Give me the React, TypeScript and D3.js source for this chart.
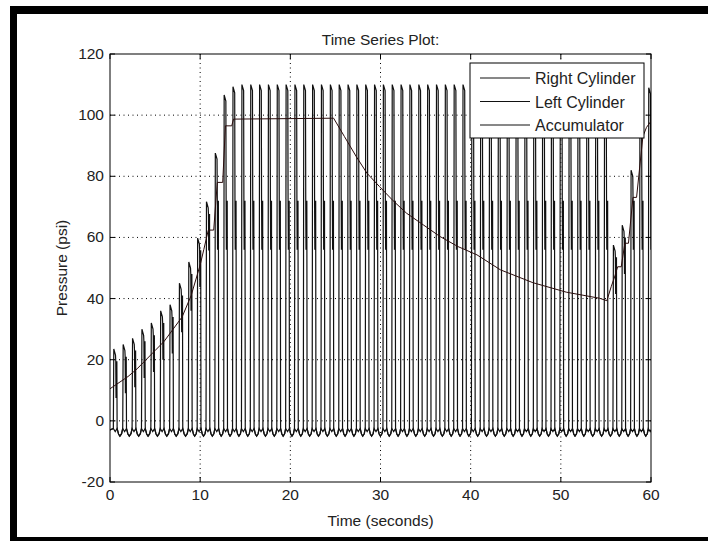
import React from 'react';
import * as d3 from 'd3';

// onset of every pump stroke (seconds), strokes alternate right / left cylinder
const strokeTimes = [
  0.37, 1.41, 2.45, 3.49, 4.53, 5.57, 6.61, 7.65, 8.69, 9.67,
  10.65, 11.63, 12.61, 13.59, 14.58, 15.56, 16.54, 17.52, 18.5, 19.48,
  20.46, 21.44, 22.42, 23.4, 24.39, 25.37, 26.35, 27.33, 28.31, 29.29,
  30.27, 31.25, 32.23, 33.21, 34.2, 35.18, 36.16, 37.14, 38.12, 39.1,
  40.08, 41.06, 42.04, 43.02, 44.01, 44.99, 45.97, 46.95, 47.93, 48.91,
  49.89, 50.87, 51.85, 52.83, 53.82, 54.8, 55.78, 56.76, 57.74, 58.72,
  59.7,
];

// peak pressure (psi) reached by each stroke
const strokePeaks = [
  23.5, 25, 27, 30, 32, 36, 38, 45, 52, 59.8,
  71.7, 87.6, 106.6, 109.3, 110, 110, 110, 110, 110, 110,
  110, 110, 110, 110, 110, 110, 110, 110, 110, 110,
  110, 110, 110, 110, 110, 110, 110, 110, 110, 110,
  110, 110, 110, 110, 110, 110, 110, 110, 110, 110,
  110, 110, 110, 110, 110, 110, 57.5, 64, 82, 97,
  109,
];

const strokeDt = [0, 0.05, 0.24, 0.27, 0.3, 0.33, 0.36, 0.39, 0.42];
const suctionLevel = -2.5;
// valve chatter band on the falling edge
const chatterTop = 72;
const chatterLow = 56;

// suction trough between strokes: fraction of the gap / pressure
const troughAt = [0.25, 0.5, 0.8];
const troughPsi = [-4.3, -5, -4.2];

const accTime = [
  0, 1, 2, 3, 4, 5, 6, 7, 8, 9, 10, 10.4, 10.9, 11.5, 11.9, 12.5, 12.8, 13.5,
  13.7, 24.8, 26, 27.3, 28.5, 29.9, 31.4, 32.9, 34.8, 36.6, 38.6, 40.7, 43.3,
  46.9, 50.6, 54.3, 55.1, 55.6, 56, 56.3, 56.7, 57.1, 57.5, 58, 58.4, 59.1,
  59.5, 60,
];
const accPsi = [
  10.5, 12.5, 14.5, 17, 20, 23, 26, 30, 34, 41, 51, 56, 62.4, 62.4, 78, 78, 96.5, 96.5,
  98.7, 99, 93, 86.5, 81, 76.6, 72, 67.9, 64, 60.3, 57, 54.3, 49.4,
  45.2, 42.1, 40.1, 39.3, 44, 47.4, 50.4, 50.4, 58.1, 58.1, 73.1, 73.1, 93,
  96, 98,
];

const xTicks = [0, 10, 20, 30, 40, 50, 60];
const yTicks = [-20, 0, 20, 40, 60, 80, 100, 120];
const seriesNames = ['Right Cylinder', 'Left Cylinder', 'Accumulator'];

type Pt = [number, number];

function cylinderTrace(side: number): Pt[] {
  const pts: Pt[] = [[0, -3]];
  const last = strokeDt[strokeDt.length - 1];
  strokeTimes.forEach((t0, k) => {
    const p = strokePeaks[k];
    if (k % 2 === side) {
      const top = p >= 75 ? chatterTop : p - 4;
      const low = p >= 75 ? chatterLow : Math.max(p - 16, 2);
      const vals = [suctionLevel, p, p - 2, top, low, top, low, top, suctionLevel];
      strokeDt.forEach((dt, i) => pts.push([t0 + dt, vals[i]]));
    } else {
      pts.push([t0, suctionLevel], [t0 + last / 2, -3.5], [t0 + last, suctionLevel]);
    }
    const gapStart = t0 + last;
    const next = k + 1 < strokeTimes.length ? strokeTimes[k + 1] : 61;
    troughAt.forEach((f, i) => pts.push([gapStart + f * (next - gapStart), troughPsi[i]]));
  });
  return pts;
}

const W = 708;
const H = 541;
const left = 110;
const right = 651;
const top = 54;
const bottom = 482;
const font = '"Liberation Sans", Arial, Helvetica, sans-serif';

export default function App() {
  const x = d3.scaleLinear().domain([0, 60]).range([left, right]);
  const y = d3.scaleLinear().domain([-20, 120]).range([bottom, top]);
  const line = d3
    .line<Pt>()
    .x((d) => x(d[0]))
    .y((d) => y(d[1]));

  const rightPath = line(cylinderTrace(0)) || '';
  const leftPath = line(cylinderTrace(1)) || '';
  const accPath = line(accTime.map((t, i) => [t, accPsi[i]] as Pt)) || '';

  const legX = 470;
  const legY = 63;

  return (
    <svg
      width={W}
      height={H}
      style={{ position: 'absolute', left: 0, top: 0, background: '#fff' }}
      fontFamily={font}
    >
      {/* outer frame */}
      <rect x={10} y={6} width={W - 10} height={8} fill="#000" />
      <rect x={10} y={6} width={7} height={H - 6} fill="#000" />
      <rect x={10} y={537} width={W - 10} height={4} fill="#000" />

      <defs>
        <clipPath id="plotArea">
          <rect x={left} y={top} width={right - left} height={bottom - top} />
        </clipPath>
      </defs>

      {/* grid */}
      <g stroke="#000" strokeWidth={1} strokeDasharray="1,3.5">
        {xTicks.slice(1, -1).map((t) => (
          <line key={'gx' + t} x1={x(t)} x2={x(t)} y1={top} y2={bottom} />
        ))}
        {yTicks.slice(1, -1).map((t) => (
          <line key={'gy' + t} x1={left} x2={right} y1={y(t)} y2={y(t)} />
        ))}
      </g>

      <g clipPath="url(#plotArea)" fill="none" strokeWidth={1.2}>
        <path d={rightPath} stroke="#111" />
        <path d={leftPath} stroke="#111" />
        <path d={accPath} stroke="#2a0c0c" strokeWidth={1} />
      </g>

      {/* axes box + ticks */}
      <rect x={left} y={top} width={right - left} height={bottom - top} fill="none" stroke="#000" />
      <g stroke="#000">
        {xTicks.map((t) => (
          <g key={'tx' + t}>
            <line x1={x(t)} x2={x(t)} y1={bottom} y2={bottom - 5} />
            <line x1={x(t)} x2={x(t)} y1={top} y2={top + 5} />
          </g>
        ))}
        {yTicks.map((t) => (
          <g key={'ty' + t}>
            <line x1={left} x2={left + 5} y1={y(t)} y2={y(t)} />
            <line x1={right} x2={right - 5} y1={y(t)} y2={y(t)} />
          </g>
        ))}
      </g>

      <g fontSize={15.5} fill="#222">
        {xTicks.map((t) => (
          <text key={'lx' + t} x={x(t)} y={bottom + 18} textAnchor="middle">
            {t}
          </text>
        ))}
        {yTicks.map((t) => (
          <text key={'ly' + t} x={left - 6} y={y(t) + 5} textAnchor="end">
            {t}
          </text>
        ))}
        <text x={(left + right) / 2} y={45} textAnchor="middle">
          Time Series Plot:
        </text>
        <text x={(left + right) / 2} y={526} textAnchor="middle">
          Time (seconds)
        </text>
        <text transform={`translate(67,${(top + bottom) / 2}) rotate(-90)`} textAnchor="middle">
          Pressure (psi)
        </text>
      </g>

      {/* legend */}
      <rect x={legX} y={legY} width={174} height={75} fill="#fff" stroke="#000" />
      {seriesNames.map((name, i) => (
        <g key={name}>
          <line x1={legX + 10} x2={legX + 60} y1={legY + 15 + i * 23.5} y2={legY + 15 + i * 23.5} stroke="#111" />
          <text x={legX + 65} y={legY + 21 + i * 23.5} fontSize={16} fill="#222">
            {name}
          </text>
        </g>
      ))}
    </svg>
  );
}
